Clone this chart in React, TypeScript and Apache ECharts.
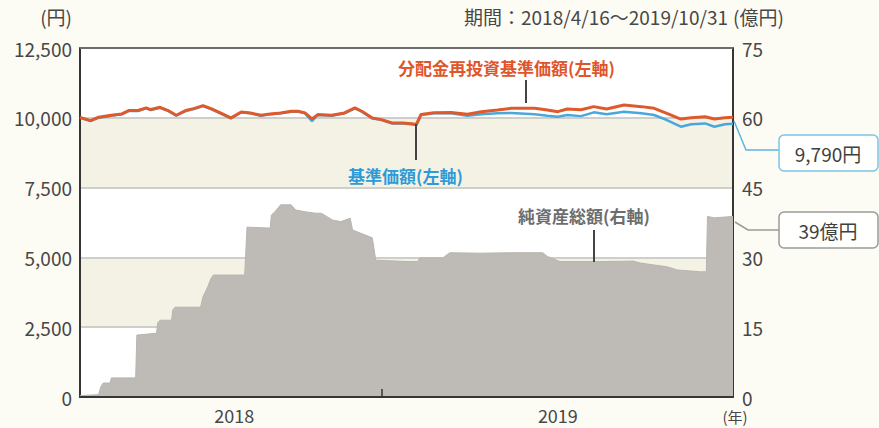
import React, { useEffect, useRef } from 'react';
import * as echarts from 'echarts';

const FONT = '"Noto Sans CJK JP", "Noto Sans", sans-serif';

// 基準価額 / 分配金再投資基準価額 (円, left axis)
const navDates = [
  '2018-04-16', '2018-04-25', '2018-05-02', '2018-05-13', '2018-05-22', '2018-05-28', '2018-06-05', '2018-06-12',
  '2018-06-16', '2018-06-24', '2018-07-01', '2018-07-08', '2018-07-16', '2018-07-23', '2018-07-31', '2018-08-07',
  '2018-08-15', '2018-08-24', '2018-09-02', '2018-09-10', '2018-09-19', '2018-09-27', '2018-10-06', '2018-10-15',
  '2018-10-21', '2018-10-27', '2018-11-02', '2018-11-07', '2018-11-19', '2018-11-30', '2018-12-09', '2018-12-15',
  '2018-12-24', '2019-01-01', '2019-01-10', '2019-01-19', '2019-01-27', '2019-01-31', '2019-02-04', '2019-02-15',
  '2019-03-02', '2019-03-16', '2019-03-28', '2019-04-11', '2019-04-23', '2019-05-13', '2019-05-24', '2019-06-02',
  '2019-06-10', '2019-06-22', '2019-07-03', '2019-07-14', '2019-07-29', '2019-08-13', '2019-08-24', '2019-09-04',
  '2019-09-16', '2019-09-25', '2019-10-07', '2019-10-15', '2019-10-24', '2019-10-31',
];
const navBase = [
  10000, 9885, 10005, 10075, 10125, 10245, 10245, 10340, 10280, 10360, 10245, 10075, 10245, 10315, 10420, 10315,
  10160, 9980, 10195, 10160, 10075, 10125, 10160, 10220, 10220, 10160, 9880, 10100, 10075, 10160, 10340, 10220,
  9980, 9920, 9800, 9800, 9770, 9740, 10100, 10160, 10160, 10075, 10130, 10160, 10170, 10125, 10075, 10040,
  10100, 10060, 10195, 10130, 10220, 10160, 10100, 9920, 9680, 9770, 9800, 9680, 9770, 9790,
];
const navReinvest = [
  10015, 9900, 10020, 10090, 10140, 10260, 10260, 10355, 10295, 10375, 10260, 10090, 10260, 10330, 10435, 10330,
  10175, 9995, 10210, 10175, 10090, 10140, 10175, 10235, 10235, 10175, 9960, 10115, 10090, 10175, 10355, 10235,
  9995, 9935, 9815, 9815, 9785, 9760, 10120, 10180, 10190, 10130, 10220, 10280, 10340, 10340, 10280, 10220,
  10315, 10290, 10400, 10315, 10460, 10400, 10340, 10160, 9955, 10005, 10040, 9955, 10005, 10020,
];

// 純資産総額 (億円, right axis)
const assetDates = [
  '2018-04-16', '2018-05-02', '2018-05-04', '2018-05-06', '2018-05-12', '2018-05-13', '2018-06-03', '2018-06-04',
  '2018-06-21', '2018-06-22', '2018-06-24', '2018-07-04', '2018-07-05', '2018-07-07', '2018-07-29', '2018-07-31',
  '2018-08-04', '2018-08-07', '2018-08-09', '2018-09-05', '2018-09-07', '2018-09-27', '2018-09-28', '2018-10-01',
  '2018-10-06', '2018-10-15', '2018-10-19', '2018-10-27', '2018-11-05', '2018-11-10', '2018-11-20', '2018-11-27',
  '2018-12-05', '2018-12-07', '2018-12-18', '2018-12-24', '2018-12-27', '2019-01-24', '2019-02-01', '2019-02-03',
  '2019-02-23', '2019-02-27', '2019-03-01', '2019-03-27', '2019-04-22', '2019-05-20', '2019-05-24', '2019-06-01',
  '2019-06-04', '2019-07-08', '2019-08-06', '2019-08-12', '2019-08-23', '2019-09-04', '2019-09-13', '2019-10-03',
  '2019-10-08', '2019-10-09', '2019-10-15', '2019-10-31',
];
const assetValues = [
  0.3, 0.5, 2.2, 3.0, 3.0, 4.1, 4.1, 13.3,
  13.7, 15.9, 16.5, 16.5, 18.7, 19.3, 19.3, 21.5,
  23.6, 25.5, 26.2, 26.2, 36.5, 36.3, 39.1, 39.8,
  41.3, 41.3, 40.2, 39.8, 39.5, 39.5, 38.0, 37.7,
  38.4, 35.9, 34.8, 34.2, 29.4, 29.1, 29.1, 29.9,
  29.9, 30.7, 31.0, 30.9, 31.0, 31.0, 30.2, 29.4,
  29.1, 29.1, 29.2, 28.8, 28.4, 28.0, 27.3, 26.9,
  26.9, 38.8, 38.5, 38.8,
];

const periodStart = '2018-04-16';
const periodEnd = '2019-10-31';
const yearTickDates = ['2019-01-01'];
const yearLabelDates = ['2018-08-27', '2019-06-02'];
const leftAxis = { min: 0, max: 12500, interval: 2500 };
const rightAxis = { min: 0, max: 75, interval: 15 };

const TXT = '#474747';
const ts = (s: string) => Date.parse(s + 'T00:00:00Z');

export default function App() {
  const ref = useRef<HTMLDivElement>(null);
  useEffect(() => {
    if (!ref.current) return;
    const chart = echarts.init(ref.current, null, { renderer: 'svg' });
    const blue = navDates.map((d, i) => [ts(d), navBase[i]]);
    const orange = navDates.map((d, i) => [ts(d), navReinvest[i]]);
    const assets = assetDates.map((d, i) => [ts(d), assetValues[i]]);
    chart.setOption({
      animation: false,
      backgroundColor: '#fdfcf4',
      textStyle: { fontFamily: FONT },
      grid: { left: 80, right: 146, top: 48, bottom: 31, containLabel: false },
      xAxis: {
        type: 'value',
        z: 6,
        min: ts(periodStart),
        max: ts(periodEnd),
        axisLine: { show: true, lineStyle: { color: '#363636', width: 2 } },
        axisTick: { show: true, inside: true, length: 8, customValues: yearTickDates.map(ts), lineStyle: { color: '#363636', width: 1.5 } },
        axisLabel: {
          customValues: yearLabelDates.map(ts),
          formatter: (v: number) => String(new Date(v).getUTCFullYear()),
          color: TXT, fontSize: 18, margin: 9, fontFamily: FONT,
        },
        splitLine: { show: false },
      },
      yAxis: [
        {
          type: 'value', position: 'left', ...leftAxis,
          axisLine: { show: true, lineStyle: { color: '#363636', width: 2 } },
          axisTick: { show: false },
          axisLabel: { formatter: (v: number) => v.toLocaleString('en-US'), color: TXT, fontSize: 19, margin: 8, fontFamily: FONT },
          splitLine: { show: true, lineStyle: { color: '#cfcfca', width: 2 } },
          splitArea: { show: true, areaStyle: { color: ['#ffffff', '#f4f2e4'] } },
        },
        {
          type: 'value', position: 'right', ...rightAxis,
          axisLine: { show: true, lineStyle: { color: '#363636', width: 2 } },
          axisTick: { show: false },
          axisLabel: { color: TXT, fontSize: 19, margin: 9, fontFamily: FONT },
          splitLine: { show: false },
        },
      ],
      series: [
        {
          name: '純資産総額', type: 'line', yAxisIndex: 1, data: assets, symbol: 'none',
          lineStyle: { width: 1, color: '#b7b4af' }, areaStyle: { color: '#bebbb6', opacity: 1 }, z: 2,
        },
        {
          name: '基準価額', type: 'line', data: blue, symbol: 'none',
          lineStyle: { width: 2.5, color: '#4aa7dc' }, z: 3,
        },
        {
          name: '分配金再投資基準価額', type: 'line', data: orange, symbol: 'none',
          lineStyle: { width: 3, color: '#de5a2c' }, z: 4,
        },
      ],
      graphic: [
        { type: 'line', shape: { x1: 80, y1: 48, x2: 733, y2: 48 }, style: { stroke: '#6e6e6e', lineWidth: 2 }, z: 10 },
        { type: 'text', x: 72, y: 16, style: { text: '(円)', fill: TXT, font: `19px ${FONT}`, align: 'right', verticalAlign: 'middle' } },
        { type: 'text', x: 728, y: 16, style: { text: '期間：2018/4/16～2019/10/31', fill: TXT, font: `19px ${FONT}`, align: 'right', verticalAlign: 'middle' } },
        { type: 'text', x: 733, y: 16, style: { text: '(億円)', fill: TXT, font: `19px ${FONT}`, align: 'left', verticalAlign: 'middle' } },
        { type: 'text', x: 735, y: 416, style: { text: '(年)', fill: TXT, font: `15px ${FONT}`, align: 'center', verticalAlign: 'middle' } },

        { type: 'text', x: 398, y: 67, style: { text: '分配金再投資基準価額(左軸)', fill: '#e0552a', font: `bold 17px ${FONT}`, align: 'left', verticalAlign: 'middle' }, z: 10 },
        { type: 'line', shape: { x1: 526, y1: 80, x2: 526, y2: 103 }, style: { stroke: '#444', lineWidth: 2 }, z: 10 },
        { type: 'text', x: 348, y: 175, style: { text: '基準価額(左軸)', fill: '#2f9ad8', font: `bold 17px ${FONT}`, align: 'left', verticalAlign: 'middle' }, z: 10 },
        { type: 'line', shape: { x1: 416, y1: 124, x2: 416, y2: 160 }, style: { stroke: '#444', lineWidth: 2 }, z: 10 },
        { type: 'text', x: 518, y: 215, style: { text: '純資産総額(右軸)', fill: '#6d6d6d', font: `bold 17px ${FONT}`, align: 'left', verticalAlign: 'middle' }, z: 10 },
        { type: 'line', shape: { x1: 594, y1: 230, x2: 594, y2: 262 }, style: { stroke: '#444', lineWidth: 2 }, z: 10 },

        { type: 'polyline', shape: { points: [[734, 121], [746, 150], [779, 150]] }, style: { stroke: '#5fb3df', lineWidth: 1.5, fill: 'none' }, z: 10 },
        { type: 'rect', shape: { x: 779, y: 135, width: 99, height: 36, r: 5 }, style: { stroke: '#7cc4e6', lineWidth: 1.5, fill: '#fffffd' }, z: 10 },
        { type: 'text', x: 828, y: 153, style: { text: '9,790円', fill: '#3f3f3f', font: `19px ${FONT}`, align: 'center', verticalAlign: 'middle' }, z: 11 },
        { type: 'polyline', shape: { points: [[735, 222], [748, 230], [779, 230]] }, style: { stroke: '#9a9a9a', lineWidth: 1.5, fill: 'none' }, z: 10 },
        { type: 'rect', shape: { x: 779, y: 212, width: 99, height: 36, r: 5 }, style: { stroke: '#9a9a9a', lineWidth: 1.5, fill: '#fffffd' }, z: 10 },
        { type: 'text', x: 828, y: 230, style: { text: '39億円', fill: '#3f3f3f', font: `19px ${FONT}`, align: 'center', verticalAlign: 'middle' }, z: 11 },
      ],
    });
    return () => chart.dispose();
  }, []);
  return <div ref={ref} style={{ position: 'absolute', left: 0, top: 0, width: 879, height: 428 }} />;
}
